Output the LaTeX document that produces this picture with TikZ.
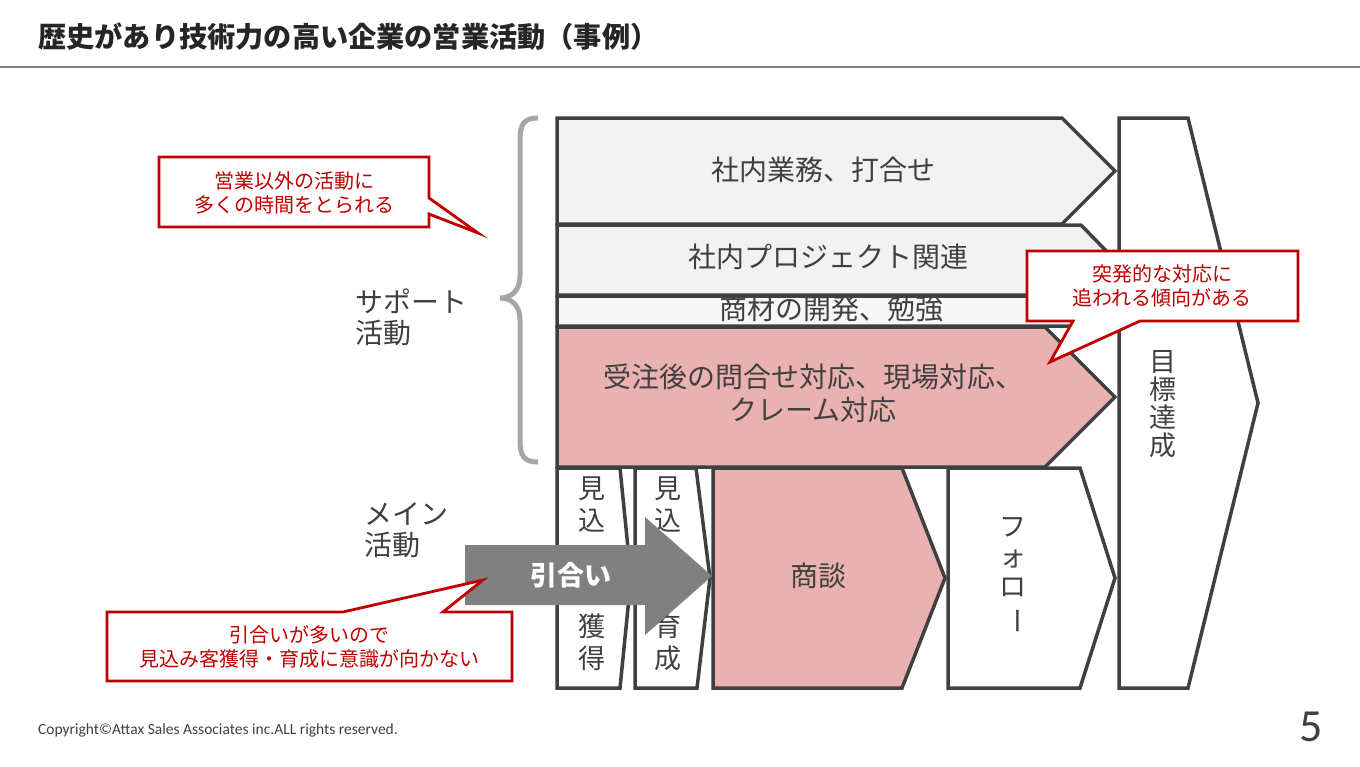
\documentclass[tikz,border=0pt]{standalone}
\usepackage{fontspec}
\setmainfont{Noto Sans CJK JP}
\newfontfamily\latinfont{Carlito}
\usepackage{xcolor}

\definecolor{linegray}{RGB}{64,64,64}
\definecolor{textgray}{RGB}{64,64,64}
\definecolor{lightfill}{RGB}{242,242,242}
\definecolor{paler}{RGB}{247,247,247}
\definecolor{pinkfill}{RGB}{234,177,177}
\definecolor{darkred}{RGB}{192,0,0}
\definecolor{bracegray}{RGB}{166,166,166}
\definecolor{arrowgray}{RGB}{128,128,128}

\begin{document}
\begin{tikzpicture}[
    x=1pt, y=-1pt,
    stage/.style={draw=linegray, line width=3.5pt, line join=miter},
    stagetext/.style={text=textgray, font=\fontsize{28}{33}\selectfont, align=center, inner sep=0pt},
    stacktext/.style={text=textgray, font=\fontsize{27}{32}\selectfont, align=center, inner sep=0pt},
    notebox/.style={draw=darkred, line width=2.8pt, fill=white, line join=miter},
    notetext/.style={text=darkred, font=\fontsize{20}{24.5}\selectfont, align=center, inner sep=0pt}
]
    \useasboundingbox (0,0) rectangle (1360,766);

    % Title
    \node[anchor=west, inner sep=0pt, text=black!85, font=\fontsize{28.2}{32}\selectfont\bfseries] (title) at (38,37) {歴史があり技術力の高い企業の営業活動（事例）};
    \draw[arrowgray, line width=2pt] (0,67) -- (1360,67);

    % Support activities
    \draw[stage, fill=lightfill] (557,118) -- (1062,118) -- (1115,171) -- (1062,224) -- (557,224) -- cycle;
    \draw[stage, fill=lightfill] (557,225) -- (1081,225) -- (1115,260) -- (1081,295) -- (557,295) -- cycle;
    \draw[stage, fill=paler] (557,296) -- (1100,296) -- (1115,311) -- (1100,326) -- (557,326) -- cycle;
    \draw[stage, fill=pinkfill] (557,327) -- (1045,327) -- (1115,397) -- (1045,467) -- (557,467) -- cycle;

    \node[stagetext] (meeting) at (823,170) {社内業務、打合せ};
    \node[stagetext] (project) at (828,257) {社内プロジェクト関連};
    \node[stagetext] (study) at (831,309) {商材の開発、勉強};
    \node[stagetext] (aftersale) at (813,393) {受注後の問合せ対応、現場対応、\\クレーム対応};

    % Main activities
    \draw[stage, fill=white] (557,468) -- (620,468) -- (631,578) -- (620,688) -- (557,688) -- cycle;
    \draw[stage, fill=white] (635,468) -- (696,468) -- (710,578) -- (697,688) -- (635,688) -- cycle;
    \draw[stage, fill=pinkfill] (713,468) -- (902,468) -- (945,578) -- (902,688) -- (713,688) -- cycle;
    \draw[stage, fill=white] (948,468) -- (1080,468) -- (1115,578) -- (1080,688) -- (948,688) -- cycle;

    \node[stacktext] (getA) at (592,505) {見\\込};
    \node[stacktext] (getB) at (592,642) {獲\\得};
    \node[stacktext] (growA) at (668,505) {見\\込};
    \node[stacktext] (growB) at (668,642) {育\\成};
    \node[stagetext] (deal) at (818,576) {商談};
    \node[stacktext, font=\fontsize{27}{30}\selectfont] (follow) at (1013,576) {フ\\ォ\\ロ\\\rotatebox[origin=c]{-90}{ー}};

    % Goal
    \draw[stage, fill=white] (1119,118) -- (1188,118) -- (1258,403) -- (1188,688) -- (1119,688) -- cycle;
    \node[stacktext, font=\fontsize{27}{28}\selectfont] (goal) at (1163,404) {目\\標\\達\\成};

    % Brace and side labels
    \draw[bracegray, line width=5pt] (538,118) .. controls (524,118) and (520,124) .. (520,140) -- (520,276)
        .. controls (520,290) and (512,298) .. (500,298) .. controls (512,298) and (520,306) .. (520,320)
        -- (520,440) .. controls (520,456) and (524,462) .. (538,462);
    \node[stagetext, align=left, anchor=west, font=\fontsize{28}{31}\selectfont] (support) at (355,317) {サポート\\活動};
    \node[stagetext, align=left, anchor=west, font=\fontsize{28}{31}\selectfont] (mainact) at (364,530) {メイン\\活動};

    % Inquiry arrow
    \fill[arrowgray] (465,545) -- (645,545) -- (645,517) -- (712,576) -- (645,635) -- (645,605) -- (465,605) -- cycle;
    \node[text=white, inner sep=0pt, font=\fontsize{27}{30}\selectfont\bfseries] (inquiry) at (571,575) {引合い};

    % Callouts
    \draw[notebox] (159,157) -- (429,157) -- (429,198) -- (478,233) -- (429,214) -- (429,227) -- (159,227) -- cycle;
    \node[notetext] (noteother) at (294,193) {営業以外の活動に\\多くの時間をとられる};

    \draw[notebox] (1027,251) -- (1298,251) -- (1298,321) -- (1140,321) -- (1050,362) -- (1073,321) -- (1027,321) -- cycle;
    \node[notetext] (notesudden) at (1162,286) {突発的な対応に\\追われる傾向がある};

    \draw[notebox] (107,612) -- (343,612) -- (483,580) -- (443,612) -- (512,612) -- (512,681) -- (107,681) -- cycle;
    \node[notetext] (noteinquiry) at (309,647) {引合いが多いので\\見込み客獲得・育成に意識が向かない};

    % Footer
    \node[anchor=west, inner sep=0pt, text=textgray, font=\latinfont\fontsize{15.5}{18}\selectfont] (copyright) at (38,730) {Copyright©Attax Sales Associates inc.ALL rights reserved.};
    \node[anchor=east, inner sep=0pt, text=textgray, font=\latinfont\fontsize{46}{50}\selectfont] (pagenum) at (1323,727) {5};
\end{tikzpicture}
\end{document}
